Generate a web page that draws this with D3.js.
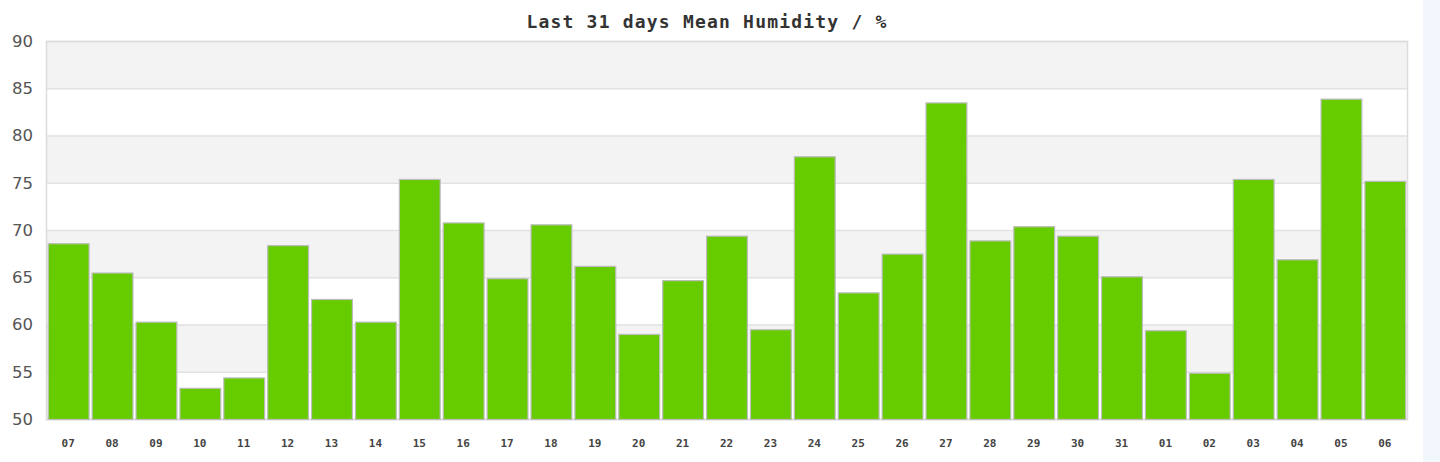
<!DOCTYPE html>
<meta charset="utf-8">
<script src="https://d3js.org/d3.v7.min.js"></script>
<style>
    body { margin: 0; background: #fff; }
    #side { position: absolute; left: 1423px; top: 0; width: 17px; height: 462px; background: #f1f7fc; }
</style>
<div id="chart"></div>
<div id="side"></div>
<script>
    // day labels and mean humidity (%)
    var days = ["07","08","09","10","11","12","13","14","15","16","17","18","19","20","21","22",
                "23","24","25","26","27","28","29","30","31","01","02","03","04","05","06"];
    var humidity = [68.6, 65.5, 60.3, 53.3, 54.4, 68.4, 62.7, 60.3, 75.4, 70.8, 64.9, 70.6, 66.2, 59.0, 64.7, 69.4,
                    59.5, 77.8, 63.4, 67.5, 83.5, 68.9, 70.4, 69.4, 65.1, 59.4, 54.9, 75.4, 66.9, 83.9, 75.2];
    var yTicks = [50, 55, 60, 65, 70, 75, 80, 85, 90];

    var margin = {top: 41, right: 33, bottom: 43, left: 46},
        width = 1440 - margin.left - margin.right,
        height = 462 - margin.top - margin.bottom;

    var svg = d3.select("#chart")
        .append("svg")
        .attr("width", 1440)
        .attr("height", 462)
        .append("g")
        .attr("transform", "translate(" + margin.left + "," + margin.top + ")");

    var x = d3.scaleBand()
        .domain(days)
        .range([0, width])
        .paddingInner(0.07)
        .paddingOuter(0.04);

    var y = d3.scaleLinear()
        .domain([50, 90])
        .range([height, 0]);

    // alternating bands
    var bands = d3.pairs(yTicks);
    svg.selectAll(".band")
        .data(bands)
        .enter()
        .append("rect")
        .attr("x", 0)
        .attr("width", width)
        .attr("y", function(d) { return y(d[1]); })
        .attr("height", function(d) { return y(d[0]) - y(d[1]); })
        .style("fill", function(d, i) { return i % 2 == 1 ? "#f3f3f3" : "#fff"; });

    // grid lines
    svg.selectAll(".grid")
        .data(yTicks)
        .enter()
        .append("line")
        .attr("x1", 0)
        .attr("x2", width)
        .attr("y1", function(d) { return y(d) + 0.5; })
        .attr("y2", function(d) { return y(d) + 0.5; })
        .style("stroke", "#e2e2e2")
        .style("stroke-width", 1.5);

    // frame
    svg.append("rect")
        .attr("x", 0.5).attr("y", 0.5)
        .attr("width", width).attr("height", height)
        .style("fill", "none")
        .style("stroke", "#dcdcdc")
        .style("stroke-width", 1.5);

    // bars
    svg.selectAll(".bar")
        .data(humidity)
        .enter()
        .append("rect")
        .attr("x", function(d, i) { return x(days[i]) + 0.5; })
        .attr("width", x.bandwidth())
        .attr("y", function(d) { return y(d) + 0.5; })
        .attr("height", function(d) { return y(50) - y(d); })
        .style("fill", "#66cc00")
        .style("stroke", "#bcbcbc")
        .style("stroke-width", 1.2);

    // Y axis labels
    var yAxis = svg.append("g")
        .attr("transform", "translate(-13,0)")
        .call(d3.axisLeft(y).tickValues(yTicks).tickSize(0).tickPadding(0));
    yAxis.select(".domain").remove();
    yAxis.selectAll("text")
        .style("font-family", "DejaVu Sans")
        .style("font-size", "16.5px")
        .style("fill", "#555");

    // X axis labels
    var xAxis = svg.append("g")
        .attr("transform", "translate(0," + (height + 20) + ")")
        .call(d3.axisBottom(x).tickSize(0).tickPadding(0));
    xAxis.select(".domain").remove();
    xAxis.selectAll("text")
        .style("font-family", "DejaVu Sans Mono")
        .style("font-weight", "bold")
        .style("font-size", "11px")
        .style("fill", "#444");

    // title
    svg.append("text")
        .attr("x", 661)
        .attr("y", -13)
        .attr("text-anchor", "middle")
        .style("font-family", "DejaVu Sans Mono")
        .style("font-weight", "bold")
        .style("font-size", "18px")
        .style("letter-spacing", "1.2px")
        .style("fill", "#333")
        .text("Last 31 days Mean Humidity / %");
</script>
